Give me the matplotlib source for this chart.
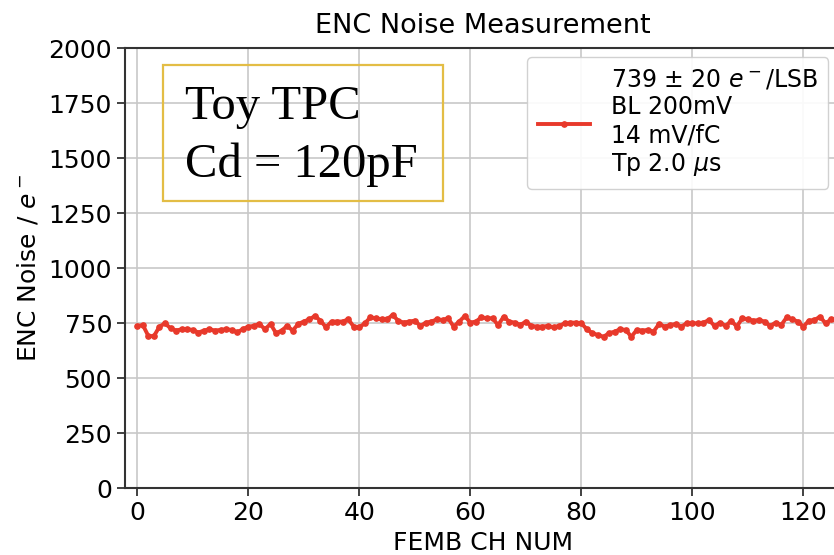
import matplotlib
matplotlib.use("Agg")
import matplotlib.pyplot as plt
from matplotlib.patches import Rectangle
import numpy as np

# ENC noise per FEMB channel (electrons)
channels = np.arange(128)
enc_noise = [
    738, 742, 692, 692, 735, 750, 727, 717, 723, 723,
    720, 708, 717, 723, 717, 720, 723, 720, 709, 723,
    735, 738, 747, 723, 747, 705, 717, 738, 717, 747,
    758, 768, 783, 762, 732, 758, 758, 758, 768, 735,
    732, 750, 777, 773, 768, 768, 788, 762, 753, 758,
    762, 738, 753, 758, 768, 765, 773, 735, 758, 783,
    753, 758, 777, 773, 773, 742, 780, 758, 753, 742,
    758, 738, 735, 735, 738, 732, 738, 750, 753, 753,
    750, 723, 705, 697, 689, 705, 712, 723, 720, 689,
    720, 717, 720, 712, 747, 735, 742, 747, 735, 750,
    750, 750, 753, 765, 738, 753, 738, 762, 735, 773,
    768, 762, 765, 758, 738, 753, 742, 777, 768, 758,
    735, 762, 765, 780, 750, 768, 760, 755,
]
legend_label = "739 $\\pm$ 20 $e^-$/LSB\nBL 200mV\n14 mV/fC\nTp 2.0 $\\mu$s"

W, H = 834, 555
fig = plt.figure(figsize=(W / 100, H / 100), dpi=100)
ax = fig.add_axes([125.3 / W, (H - 488.3) / H, (840 - 125.3) / W, (488.3 - 48.3) / H])

line, = ax.plot(channels, enc_noise, color="#e8392b", lw=2.8,
                marker="o", ms=3.8, label=legend_label)

ax.set_xlim(-2.16, 126.6)
ax.set_ylim(0, 2000)
ax.set_xticks(np.arange(0, 121, 20))
ax.set_yticks(np.arange(0, 2001, 250))
ax.grid(True, color="#c8c8c8", lw=1.2)
ax.tick_params(labelsize=18, length=6, width=1.3, color="#333333")
for s in ax.spines.values():
    s.set_color("#333333")
    s.set_linewidth(1.5)

ax.set_title("ENC Noise Measurement", fontsize=19.5, pad=11)
ax.set_xlabel("FEMB CH NUM", fontsize=18, labelpad=4)
ax.set_ylabel("ENC Noise / $e^-$", fontsize=18, labelpad=6)

leg = fig.legend(handles=[line], loc="upper left",
                 bbox_to_anchor=(527 / W, 1 - 57 / H),
                 fontsize=17, handlelength=2.2, framealpha=0.9,
                 borderpad=0.45, handletextpad=0.9, borderaxespad=0)
leg.get_frame().set_edgecolor("#cccccc")

# detector annotation box
fig.patches.append(Rectangle((163.3 / W, 1 - 200.7 / H), (442.7 - 163.3) / W,
                             (200.7 - 65) / H, transform=fig.transFigure,
                             fill=False, edgecolor="#e3bd45", lw=1.6))
fig.text(185 / W, 1 - 119 / H, "Toy TPC", family="Liberation Serif",
         fontsize=35, va="baseline")
fig.text(185 / W, 1 - 176.7 / H, "Cd = 120pF", family="Liberation Serif",
         fontsize=35, va="baseline")

fig.savefig("out.png", dpi=100)
